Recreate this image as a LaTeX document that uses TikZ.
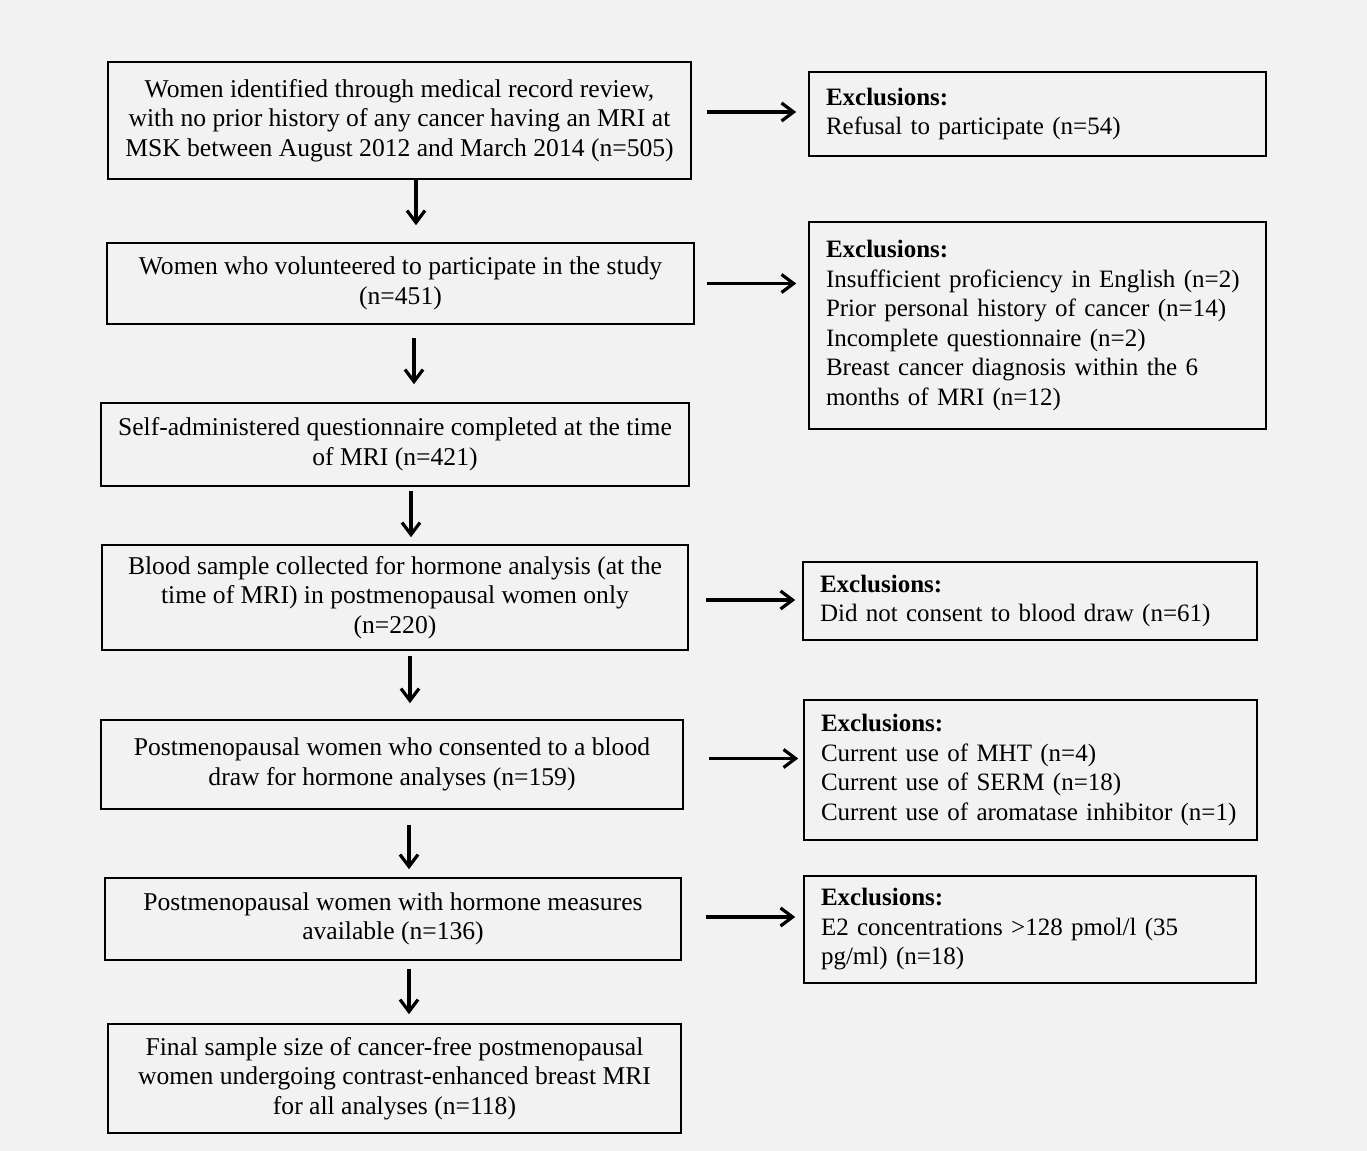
\documentclass[tikz,border=0pt]{standalone}
\usepackage{fontspec}
\setmainfont{Liberation Serif}
\usetikzlibrary{arrows.meta}
\definecolor{bg}{HTML}{F2F2F2}
\begin{document}
\begin{tikzpicture}[x=0.5pt,y=-0.5pt,
  lbox/.style={draw,line width=0.8pt,align=center,inner sep=0pt,font=\fontsize{12.8}{14.8}\selectfont},
  rbox/.style={draw,line width=0.8pt,align=left,inner xsep=8.5pt,inner ysep=0pt,font=\fontsize{12.5}{14.75}\selectfont},
  arr/.style={line width=1.6pt,-{Straight Barb[length=6pt,width=9pt]}}]
\fill[bg] (0,0) rectangle (1367,1151);
\useasboundingbox (0,0) rectangle (1367,1151);
% left column
\node[lbox,minimum width=291.5pt,minimum height=58.5pt] (L1) at (399.5,120.5)
 {Women identified through medical record review,\\ with no prior history of any cancer having an MRI at\\ MSK between August 2012 and March 2014 (n=505)};
\node[lbox,minimum width=293.5pt,minimum height=40.5pt] (L2) at (400.5,283.5)
 {Women who volunteered to participate in the study\\ (n=451)};
\node[lbox,minimum width=294pt,minimum height=41.5pt] (L3) at (395,444.5)
 {Self-administered questionnaire completed at the time\\ of MRI (n=421)};
\node[lbox,minimum width=293pt,minimum height=52.5pt] (L4) at (395,597.5)
 {Blood sample collected for hormone analysis (at the\\ time of MRI) in postmenopausal women only\\ (n=220)};
\node[lbox,minimum width=291pt,minimum height=44.5pt] (L5) at (392,764.5)
 {Postmenopausal women who consented to a blood\\ draw for hormone analyses (n=159)};
\node[lbox,minimum width=288pt,minimum height=41pt] (L6) at (393,919)
 {Postmenopausal women with hormone measures\\ available (n=136)};
\node[lbox,minimum width=286.5pt,minimum height=54.5pt] (L7) at (394.5,1078.5)
 {Final sample size of cancer-free postmenopausal\\ women undergoing contrast-enhanced breast MRI\\ for all analyses (n=118)};
% right column
\node[rbox,text width=211.5pt,minimum height=42pt] (R1) at (1037.5,114)
 {\textbf{Exclusions:}\\ Refusal to participate (n=54)};
\node[rbox,text width=211.5pt,minimum height=103.5pt] (R2) at (1037.5,325.5)
 {\textbf{Exclusions:}\\ Insufficient proficiency in English (n=2)\\ Prior personal history of cancer (n=14)\\ Incomplete questionnaire (n=2)\\ Breast cancer diagnosis within the 6\\ months of MRI (n=12)};
\node[rbox,text width=210pt,minimum height=39pt] (R3) at (1030,601)
 {\textbf{Exclusions:}\\ Did not consent to blood draw (n=61)};
\node[rbox,text width=209.5pt,minimum height=70pt] (R4) at (1030.5,770)
 {\textbf{Exclusions:}\\ Current use of MHT (n=4)\\ Current use of SERM (n=18)\\ Current use of aromatase inhibitor (n=1)};
\node[rbox,text width=209pt,minimum height=53.5pt] (R5) at (1030,929.5)
 {\textbf{Exclusions:}\\ E2 concentrations >128 pmol/l (35\\ pg/ml) (n=18)};
% horizontal arrows
\draw[arr,shorten <=7.5pt,shorten >=6pt] ([yshift=1pt]L1.east |- R1.west) -- ([yshift=1pt]R1.west);
\draw[arr,shorten <=6pt,shorten >=6pt] (L2.east) -- (L2.east -| R2.west);
\draw[arr,shorten <=8.5pt,shorten >=3.5pt] ([yshift=-1.25pt]L4.east) -- ([yshift=-1.25pt]L4.east -| R3.west);
\draw[arr,shorten <=12.5pt,shorten >=2.5pt] ([yshift=3pt]L5.east) -- ([yshift=3pt]L5.east -| R4.west);
\draw[arr,shorten <=12pt,shorten >=4pt] ([yshift=1pt]L6.east) -- ([yshift=1pt]L6.east -| R5.west);
% vertical arrows
\draw[arr,shorten >=8.5pt] ([xshift=8.25pt]L1.south) -- ([xshift=8.25pt]L1.south |- L2.north);
\draw[arr,shorten <=6.5pt,shorten >=9pt] ([xshift=6.75pt]L2.south) -- ([xshift=6.75pt]L2.south |- L3.north);
\draw[arr,shorten <=2pt,shorten >=3.5pt] ([xshift=8pt]L3.south) -- ([xshift=8pt]L3.south |- L4.north);
\draw[arr,shorten <=2.5pt,shorten >=8pt] ([xshift=7.5pt]L4.south) -- ([xshift=7.5pt]L4.south |- L5.north);
\draw[arr,shorten <=7.5pt,shorten >=4pt] ([xshift=8.5pt]L5.south) -- ([xshift=8.5pt]L5.south |- L6.north);
\draw[arr,shorten <=4pt,shorten >=4.5pt] ([xshift=8pt]L6.south) -- ([xshift=8pt]L6.south |- L7.north);
\end{tikzpicture}
\end{document}
